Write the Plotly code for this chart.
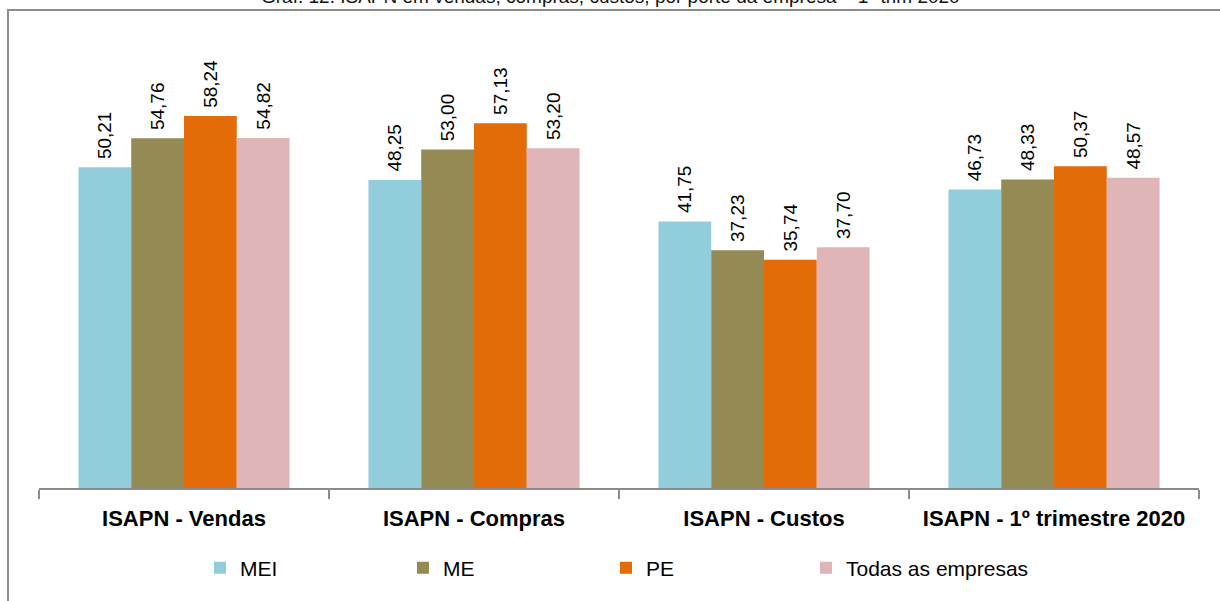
import plotly.graph_objects as go

categorias = ['ISAPN - Vendas', 'ISAPN - Compras', 'ISAPN - Custos', 'ISAPN - 1º trimestre 2020']
series = ['MEI', 'ME', 'PE', 'Todas as empresas']
mei = [50.21, 48.25, 41.75, 46.73]
me = [54.76, 53.00, 37.23, 48.33]
pe = [58.24, 57.13, 35.74, 50.37]
todas = [54.82, 53.20, 37.70, 48.57]
cores = ['#92CDDC', '#948A54', '#E36C09', '#DFB5B7']

titulo = 'Gráf. 12. ISAPN em vendas, compras, custos, por porte da empresa – 1º trim 2020'

W, H = 1220, 601
ML, MR, MT, MB = 39, 21, 41, 113
plot_w = W - ML - MR
plot_h = H - MT - MB
FONTE = 'Liberation Sans, Arial, sans-serif'

fig = go.Figure()
for i, (nome, vals, cor) in enumerate(zip(series, [mei, me, pe, todas], cores)):
    fig.add_trace(go.Bar(
        x=categorias, y=vals, name=nome,
        marker=dict(color=cor, line=dict(width=0)),
        text=[' ' + f'{v:.2f}'.replace('.', ',') for v in vals],
        textposition='outside', textangle=-90,
        textfont=dict(family=FONTE, size=20, color='#000'),
        cliponaxis=False,
        # last series in its own legend so its long label is not clipped
        legend='legend2' if i == 3 else 'legend',
    ))

# title, partly cut by the top edge as in the original
fig.add_annotation(
    text=titulo, xref='paper', yref='paper', x=(610 - ML) / plot_w, y=(plot_h + MT - 9) / plot_h,
    xanchor='center', yanchor='bottom', showarrow=False,
    font=dict(family=FONTE, size=19, color='#111'),
)

# outer frame
fig.add_shape(type='rect', xref='paper', yref='paper',
              x0=-(ML - 8) / plot_w, x1=1.1,
              y0=-0.5, y1=(plot_h + MT - 10) / plot_h,
              line=dict(color='#8c8c8c', width=2), fillcolor='rgba(0,0,0,0)', layer='below')

leg_font = dict(family=FONTE, size=21, color='#000')
fig.update_layout(
    width=W, height=H,
    margin=dict(l=ML, r=MR, t=MT, b=MB),
    paper_bgcolor='white', plot_bgcolor='white',
    barmode='group', bargap=0.272, bargroupgap=0,
    showlegend=True,
    legend=dict(orientation='h', x=(200 - ML) / plot_w, xanchor='left',
                y=-80 / plot_h, yanchor='middle',
                entrywidth=158, entrywidthmode='pixels',
                font=leg_font, itemwidth=30, traceorder='normal'),
    legend2=dict(orientation='h', x=(806 - ML) / plot_w, xanchor='left',
                 y=-80 / plot_h, yanchor='middle',
                 font=leg_font, itemwidth=30),
    xaxis=dict(showline=True, linecolor='#8c8c8c', linewidth=2,
               ticks='outside', tickson='boundaries', ticklen=9, tickcolor='#8c8c8c', tickwidth=2,
               tickfont=dict(family=FONTE, size=22, color='#000', weight='bold'),
               ticklabelstandoff=10,
               showgrid=False),
    yaxis=dict(range=[0, 70], visible=False, showgrid=False, zeroline=False),
)

fig.write_html('out.html', config={'displayModeBar': False},
               post_script="document.body.style.margin='0';")
